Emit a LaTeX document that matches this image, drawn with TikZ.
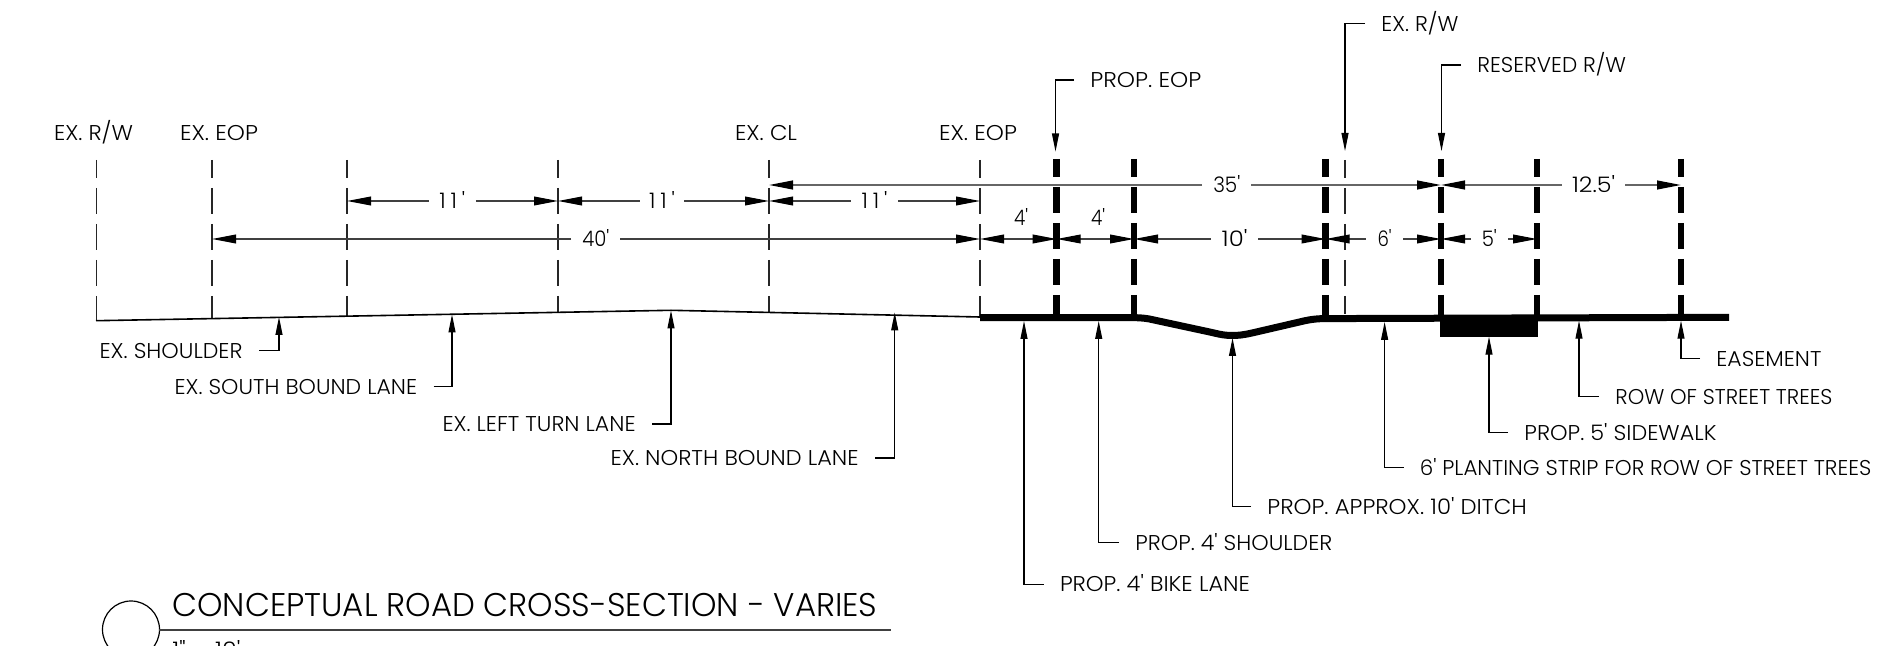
\documentclass[tikz,border=0pt]{standalone}
\usepackage{fontspec}
\usepackage{graphicx}
\setmainfont{Poppins Light}[Ligatures=TeXOff]
\usetikzlibrary{arrows.meta,calc}
\newcommand{\fw}[2]{\resizebox{\dimexpr #1pt/2\relax}{\height}{#2}}
\newcommand{\spaced}[1]{{\addfontfeature{LetterSpace=22}#1}}
\tikzset{
  x=0.5pt,y=-0.5pt,
  gridthin/.style={line width=0.6pt,draw=black!85,dash pattern=on 13pt off 5pt,dash phase=4pt},
  gridthick/.style={line width=3.25pt,draw=black,dash pattern=on 13pt off 5pt,dash phase=4pt},
  ground/.style={line width=0.8pt,draw=black},
  road/.style={line width=3.5pt,draw=black},
  dimtip/.tip={Triangle[length=12pt,width=4.4pt,color=black,fill=black]},
  dimln/.style={line width=0.6pt,draw=black!75,-{dimtip}},
  dimlnb/.style={line width=0.9pt,draw=black!60,-{dimtip}},
  dimboth/.style={line width=0.6pt,draw=black!75,{dimtip}-{dimtip}},
  leaderln/.style={line width=0.55pt,draw=black,-{Triangle[length=9pt,width=3.5pt]}},
  lab/.style={inner sep=0pt,font=\fontsize{10.7pt}{12pt}\selectfont,text height=7.5pt,text depth=0pt},
  labw/.style={lab,anchor=west,inner xsep=8pt},
  labe/.style={lab,anchor=east,inner xsep=8pt},
  gaplab/.style={lab,anchor=center}
}
% dimension with a gap: style, name, x1, x2, y, gap left, gap right, text width, text
\newcommand{\dimgap}[9]{%
  \coordinate (#2a) at (#3,#5);
  \coordinate (#2b) at (#4,#5);
  \pgfmathsetmacro{\gapw}{(#7-#6)*0.5}
  \node[gaplab,minimum width=\gapw pt] (#2) at ({(#6+#7)/2},#5) {\fw{#8}{#9}};
  \draw[#1] (#2.west) -- (#2a);
  \draw[#1] (#2.east) -- (#2b);
}
\begin{document}
\begin{tikzpicture}
\useasboundingbox (0,0) rectangle (1904,646);
% grid lines
\foreach \n/\gx in {g1/96.7,g2/212,g3/347,g4/558,g5/769,g6/980,g11/1345}{
  \coordinate (\n t) at (\gx,160);
}
\coordinate (g1b) at (96.7,320);
\coordinate (g2b) at (212,318.5);
\coordinate (g3b) at (347,317);
\coordinate (g4b) at (558,312.3);
\coordinate (g5b) at (769,312.7);
\coordinate (g6b) at (980,317);
\coordinate (g11b) at (1345,314);
\foreach \n in {g1,g2,g3,g4,g5,g6,g11}{ \draw[gridthin] (\n t) -- (\n b); }
\foreach \n/\gx in {t1/1056.7,t2/1134,t3/1325.6,t4/1441,t5/1537,t6/1681}{
  \coordinate (\n t) at (\gx,159);
  \coordinate (\n b) at (\gx,318);
  \draw[gridthick] (\n t) -- (\n b);
}
% ground
\coordinate (p0) at (96,320.7);
\coordinate (p1) at (671,310.3);
\coordinate (p2) at (980,317);
\draw[ground] (p0) -- (p1) -- (p2);
\coordinate (r0) at (980,317.7);
\coordinate (r1) at (1134,317.7);
\coordinate (r2) at (1232,335.5);
\coordinate (r3) at (1325.6,318.6);
\coordinate (r4) at (1729,317.3);
\draw[road] (r0) -- (r1) .. controls (1142,317.7) and (1148,318.5) .. (1154,320)
  -- (1212,332.5) .. controls (1222,335) and (1227,335.5) .. (r2)
  .. controls (1238,335.5) and (1243,335) .. (1252,333)
  -- (1305,320.7) .. controls (1312,319.2) and (1318,318.6) .. (r3) -- (r4);
\fill[black] (1440,315) rectangle (1537.5,336.7);
% dimensions
\dimgap{dimlnb}{d35}{769}{1441}{185}{1202.5}{1251}{27}{35'}
\dimgap{dimlnb}{d125}{1441}{1681}{185}{1562}{1625}{43}{12.5'}
\dimgap{dimln}{d11a}{347}{558}{201}{429}{475.5}{25.7}{\spaced{11'}}
\dimgap{dimln}{d11b}{558}{769}{201}{640}{684}{25.7}{\spaced{11'}}
\dimgap{dimln}{d11c}{769}{980}{201}{851}{898}{25.7}{\spaced{11'}}
\dimgap{dimln}{d40}{212}{980}{239}{571.5}{620}{27}{40'}
\dimgap{dimln}{d10}{1134}{1325.6}{239}{1211}{1258}{25.7}{10'}
\dimgap{dimln}{d6}{1325.6}{1441}{239}{1366}{1403}{14}{6'}
\dimgap{dimln}{d5}{1441}{1537}{239}{1471}{1507.7}{15}{5'}
\coordinate (d4aa) at (980,239);
\coordinate (d4ab) at (1056.7,239);
\coordinate (d4ba) at (1056.7,239);
\coordinate (d4bb) at (1134,239);
\draw[dimboth] (d4aa) -- (d4ab);
\draw[dimboth] (d4ba) -- (d4bb);
\node[gaplab] (d4a) at (1021,218) {\fw{14}{4'}};
\node[gaplab] (d4b) at (1098,218) {\fw{14}{4'}};
% top plain labels
\node[gaplab] (l1) at (93.5,133) {\fw{79}{EX. R/W}};
\node[gaplab] (l2) at (219,133) {\fw{78}{EX. EOP}};
\node[gaplab] (l3) at (766,133) {\fw{62}{EX. CL}};
\node[gaplab] (l4) at (978,133) {\fw{78}{EX. EOP}};
% top leaders
\coordinate (a1) at (1055.5,151.5);
\coordinate (a2) at (1345,151);
\coordinate (a3) at (1441.5,151);
\node[labw] (l5) at (1074,80) {\fw{111}{PROP. EOP}};
\node[labw] (l6) at (1365,23.7) {\fw{77}{EX. R/W}};
\node[labw] (l7) at (1461,65) {\fw{148.6}{RESERVED R/W}};
\draw[leaderln] (l5.west) -| (a1);
\draw[leaderln] (l6.west) -| (a2);
\draw[leaderln] (l7.west) -| (a3);
% lower left leaders
\coordinate (b1) at (279,317);
\coordinate (b2) at (452,314.5);
\coordinate (b3) at (671,310.5);
\coordinate (b4) at (894.7,312.5);
\node[labe] (l8) at (259,350.5) {\fw{143}{EX. SHOULDER}};
\node[labe] (l9) at (433.5,386.5) {\fw{242.5}{EX. SOUTH BOUND LANE}};
\node[labe] (l10) at (652,424) {\fw{193}{EX. LEFT TURN LANE}};
\node[labe] (l11) at (875,458) {\fw{248}{EX. NORTH BOUND LANE}};
\draw[leaderln] (l8.east) -| (b1);
\draw[leaderln] (l9.east) -| (b2);
\draw[leaderln] (l10.east) -| (b3);
\draw[leaderln] (l11.east) -| (b4);
% lower right leaders
\coordinate (c1) at (1024,321);
\coordinate (c2) at (1098.7,321);
\coordinate (c3) at (1232.5,338);
\coordinate (c4) at (1384.6,322);
\coordinate (c5) at (1489,336.7);
\coordinate (c6) at (1579,320.7);
\coordinate (c7) at (1681,320.7);
\node[labw] (l12) at (1043.6,584.3) {\fw{190}{PROP. 4' BIKE LANE}};
\node[labw] (l13) at (1119,542.7) {\fw{197}{PROP. 4' SHOULDER}};
\node[labw] (l14) at (1251,506.7) {\fw{259.4}{PROP. APPROX. 10' DITCH}};
\node[labw] (l15) at (1403.5,467.7) {\fw{451.4}{6' PLANTING STRIP FOR ROW OF STREET TREES}};
\node[labw] (l16) at (1508,432.7) {\fw{192}{PROP. 5' SIDEWALK}};
\node[labw] (l17) at (1599,396.7) {\fw{217}{ROW OF STREET TREES}};
\node[labw] (l18) at (1700,358.5) {\fw{105}{EASEMENT}};
\draw[leaderln] (l12.west) -| (c1);
\draw[leaderln] (l13.west) -| (c2);
\draw[leaderln] (l14.west) -| (c3);
\draw[leaderln] (l15.west) -| (c4);
\draw[leaderln] (l16.west) -| (c5);
\draw[leaderln] (l17.west) -| (c6);
\draw[leaderln] (l18.west) -| (c7);
% title block
\draw[line width=0.6pt,draw=black] (131,629.5) circle[radius=14.25pt];
\coordinate (ru0) at (159,630);
\coordinate (ru1) at (891,630);
\draw[line width=0.8pt,draw=black!75] (ru0) -- (ru1);
\node[lab,anchor=west,font=\fontsize{16.4pt}{18pt}\selectfont,text height=11.5pt] (title) at (172,605) {\fw{705}{CONCEPTUAL ROAD CROSS-SECTION - VARIES}};
\node[lab,anchor=west] (scale) at (172,650) {\fw{68}{1" = 10'}};
\end{tikzpicture}
\end{document}
